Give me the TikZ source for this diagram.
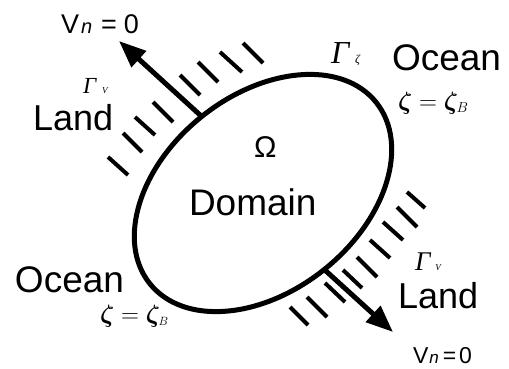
\documentclass[tikz,border=0pt]{standalone}
\usepackage{bm}
\usepackage{fontspec}
\setmainfont{Liberation Sans}
\newfontfamily\tms{Liberation Serif}
\usetikzlibrary{shapes.geometric,arrows.meta}
\newcommand{\fsz}[1]{\fontsize{#1}{#1}\selectfont}
\begin{document}
\begin{tikzpicture}[x=1pt,y=-1pt]
\tikzset{
  bound/.style={draw, ellipse, line width=5pt, inner sep=0pt, outer sep=0pt,
    minimum width=290pt, minimum height=196pt, rotate=38.7},
  hatchline/.style={line width=4pt},
  normarrow/.style={line width=5pt, -{Triangle[length=27pt,width=21pt]}},
  lbl/.style={inner sep=0pt, outer sep=0pt, anchor=base west},
}
\useasboundingbox (0,0) rectangle (509,368);
\fill[white] (0,0) rectangle (509,368);

% domain boundary
\node[bound] (dom) at (263,193) {};

% hatching (land boundaries)
\foreach \ax/\ay/\bx/\by in {108/157/128/175, 123/133/142/152, 135/117/155/135,
  153/102/173/122, 180/75/200/95, 198/62/218/82, 220/52/242/72, 243/43/263/63,
  407/192/425/208, 397/207/417/227, 383/222/403/240, 370/240/390/258,
  357/257/377/277, 343/270/362/288, 325/283/345/302, 307/297/327/317,
  290/307/308/325}
  \draw[hatchline] (\ax,\ay) -- (\bx,\by);

% normal arrows
\coordinate (tipA) at (119,41);
\coordinate (tipB) at (393,332);
\draw[normarrow] (dom.north) -- (tipA);
\draw[normarrow] (dom.south) -- (tipB);

% labels
\node[lbl] (vtop) at (61,33) {\fsz{27}V\hspace{2pt}{\fsz{20}\itshape n}\hspace{9pt}=\hspace{7pt}0};
\node[lbl] (vbot) at (413,363) {\fsz{23}V\hspace{1pt}{\fsz{17}\itshape n}\hspace{4pt}=\hspace{3pt}0};

\node[lbl] (gamA) at (83,93) {\tms\itshape\fsz{23}Γ\hspace{6pt}{\fsz{9}V}};
\node[lbl] (gamB) at (331,63) {\tms\itshape\fsz{32}Γ\hspace{6pt}{\fsz{12}ζ}};
\node[lbl] (gamC) at (415,270) {\tms\itshape\fsz{27}Γ\hspace{5pt}{\fsz{9}V}};

\node[lbl] (land1) at (33,130) {\fsz{36}Land};
\node[lbl] (land2) at (398,308) {\fsz{36}Land};
\node[lbl] (ocean1) at (392,70) {\fsz{37}Ocean};
\node[lbl] (ocean2) at (15,292) {\fsz{37}Ocean};

\node[lbl] (zeta1) at (398,109) {\fsz{27}$\bm{\zeta}=\bm{\zeta}_{\scriptscriptstyle B}$};
\node[lbl] (zeta2) at (100,322) {\fsz{25}$\bm{\zeta}=\bm{\zeta}_{\scriptscriptstyle B}$};

\node[lbl] (omega) at (254,157) {\fsz{30}Ω};
\node[lbl] (domain) at (189,215) {\fsz{37}Domain};
\end{tikzpicture}
\end{document}
